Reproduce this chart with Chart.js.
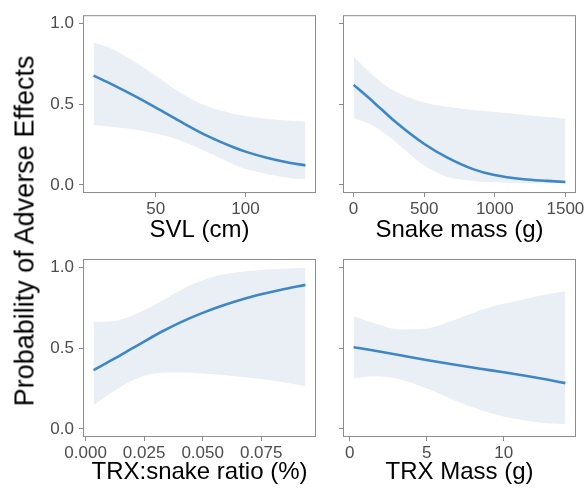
<!DOCTYPE html>
<html><head><meta charset="utf-8">
<script src="https://cdn.jsdelivr.net/npm/chart.js@4.4.0/dist/chart.umd.min.js"></script>
<style>
html,body{margin:0;padding:0;background:#fff;overflow:hidden;}
#wrap{position:relative;width:587px;height:488px;overflow:hidden;background:#fff;}
#wrap canvas{position:absolute;left:0;top:0;}
#ytitle{position:absolute;left:25px;top:231px;transform:translate(-50%,-50%) rotate(-90deg);font-family:'Liberation Sans',Arial,sans-serif;font-size:27px;color:#000;white-space:nowrap;line-height:1;}
</style></head><body>
<div id="wrap">
<canvas id="c1" width="640" height="520"></canvas>
<canvas id="c2" width="640" height="520"></canvas>
<canvas id="c3" width="640" height="520"></canvas>
<canvas id="c4" width="640" height="520"></canvas>
<div id="ytitle">Probability of Adverse Effects</div>
</div>
<script>
// ---- data ----
const yTicks = [0, 0.5, 1];
const yTickLabels = ['0.0', '0.5', '1.0'];

// SVL (cm)
const svlX     = [15.3, 26.1, 37.3, 50, 63.4, 78.4, 93.3, 100, 111.9, 123.1, 133.4];
const svlFit   = [0.676, 0.619, 0.555, 0.478, 0.394, 0.305, 0.233, 0.206, 0.168, 0.140, 0.121];
const svlUpper = [0.881, 0.840, 0.768, 0.676, 0.574, 0.488, 0.441, 0.426, 0.410, 0.398, 0.391];
const svlLower = [0.369, 0.359, 0.344, 0.318, 0.277, 0.205, 0.127, 0.098, 0.068, 0.045, 0.035];
const svlTicks = [50, 100];
const svlTickLabels = ['50', '100'];

// Snake mass (g)
const massX     = [0, 142, 283, 496, 661, 850, 997, 1205, 1370, 1500];
const massFit   = [0.619, 0.512, 0.400, 0.256, 0.170, 0.096, 0.061, 0.035, 0.025, 0.018];
const massUpper = [0.795, 0.676, 0.584, 0.512, 0.484, 0.463, 0.451, 0.434, 0.420, 0.410];
const massLower = [0.414, 0.365, 0.277, 0.123, 0.051, 0.025, 0.016, 0.012, 0.010, 0.010];
const massTicks = [0, 500, 1000, 1500];
const massTickLabels = ['0', '500', '1000', '1500'];

// TRX:snake ratio (%)
const ratioX     = [0.0034, 0.0117, 0.0203, 0.025, 0.0331, 0.0403, 0.05, 0.0589, 0.0689, 0.075, 0.0831, 0.0939];
const ratioFit   = [0.363, 0.429, 0.501, 0.540, 0.605, 0.657, 0.717, 0.764, 0.809, 0.832, 0.859, 0.890];
const ratioUpper = [0.661, 0.665, 0.702, 0.733, 0.795, 0.856, 0.918, 0.955, 0.975, 0.984, 0.990, 0.994];
const ratioLower = [0.148, 0.230, 0.302, 0.329, 0.347, 0.349, 0.343, 0.333, 0.318, 0.308, 0.292, 0.265];
const ratioTicks = [0, 0.025, 0.05, 0.075];
const ratioTickLabels = ['0.000', '0.025', '0.050', '0.075'];

// TRX Mass (g)
const trxX     = [0.26, 1.56, 3.29, 4.98, 6.75, 8.48, 10, 11.5, 12.8, 14.0];
const trxFit   = [0.505, 0.484, 0.455, 0.426, 0.398, 0.372, 0.350, 0.327, 0.305, 0.283];
const trxUpper = [0.696, 0.655, 0.614, 0.620, 0.671, 0.733, 0.774, 0.805, 0.832, 0.850];
const trxLower = [0.312, 0.326, 0.306, 0.251, 0.179, 0.117, 0.076, 0.051, 0.035, 0.029];
const trxTicks = [0, 5, 10];
const trxTickLabels = ['0', '5', '10'];

// ---- drawing ----
const FONT = "'Liberation Sans', Arial, sans-serif";
const LINE = '#3d87c8';
const RIBBON = 'rgb(234,239,246)';
const FRAME = '#8c8c8c';
const CW = 640, CH = 520, Y_AXIS_W = 40;

const borderPlugin = {
  id: 'panelBorder',
  afterDraw(chart) {
    const {ctx, chartArea: a} = chart;
    ctx.save();
    ctx.strokeStyle = FRAME;
    ctx.lineWidth = 1;
    ctx.strokeRect(a.left + 0.5, a.top + 0.5, a.right - a.left - 1, a.bottom - a.top - 1);
    ctx.restore();
  }
};

function panel(id, area, xs, fit, lo, hi, xMin, xMax, xTicks, xLabels, xTitle, yLabels, axisH) {
  const pts = ys => xs.map((x, i) => ({x: x, y: ys[i]}));
  new Chart(document.getElementById(id), {
    type: 'line',
    data: {datasets: [
      {data: pts(hi), borderColor: 'rgba(0,0,0,0)', borderWidth: 0, pointRadius: 0, fill: '+1', backgroundColor: RIBBON, cubicInterpolationMode: 'monotone', order: 2},
      {data: pts(lo), borderColor: 'rgba(0,0,0,0)', borderWidth: 0, pointRadius: 0, fill: false, cubicInterpolationMode: 'monotone', order: 2},
      {data: pts(fit), borderColor: LINE, borderWidth: 2.6, pointRadius: 0, fill: false, cubicInterpolationMode: 'monotone', order: 1}
    ]},
    options: {
      responsive: false, animation: false, devicePixelRatio: 1, events: [],
      layout: {padding: {left: area.l - Y_AXIS_W, right: CW - area.r, top: area.t, bottom: CH - area.b - axisH}},
      plugins: {legend: {display: false}, tooltip: {enabled: false}},
      scales: {
        x: {
          type: 'linear', min: xMin, max: xMax,
          afterFit: s => { s.height = axisH; },
          afterBuildTicks: s => { s.ticks = xTicks.map(v => ({value: v})); },
          grid: {drawOnChartArea: false, drawTicks: true, tickLength: 4, color: FRAME, tickColor: FRAME},
          border: {display: false},
          ticks: {padding: 2, color: '#4d4d4d', font: {size: 17, family: FONT}, maxRotation: 0, autoSkip: false,
                  callback: (v, i) => xLabels[i]},
          title: {display: true, text: xTitle, color: '#000', font: {size: 24, family: FONT}, padding: 0}
        },
        y: {
          type: 'linear', min: -0.05, max: 1.05,
          afterFit: s => { s.width = Y_AXIS_W; },
          afterBuildTicks: s => { s.ticks = yTicks.map(v => ({value: v})); },
          grid: {drawOnChartArea: false, drawTicks: true, tickLength: 4, color: FRAME, tickColor: FRAME},
          border: {display: false},
          ticks: {padding: 5, color: '#4d4d4d', font: {size: 17, family: FONT}, autoSkip: false,
                  callback: (v, i) => (yLabels ? yLabels[i] : '')}
        }
      }
    },
    plugins: [borderPlugin]
  });
}

panel('c1', {l: 83, r: 316, t: 15, b: 193}, svlX, svlFit, svlLower, svlUpper, 9.4, 139.3, svlTicks, svlTickLabels, 'SVL (cm)', yTickLabels, 52);
panel('c2', {l: 343, r: 576, t: 15, b: 193}, massX, massFit, massLower, massUpper, -75, 1575, massTicks, massTickLabels, 'Snake mass (g)', null, 52);
panel('c3', {l: 83, r: 316, t: 259, b: 437}, ratioX, ratioFit, ratioLower, ratioUpper, -0.0011, 0.0984, ratioTicks, ratioTickLabels, 'TRX:snake ratio (%)', yTickLabels, 50);
panel('c4', {l: 343, r: 576, t: 259, b: 437}, trxX, trxFit, trxLower, trxUpper, -0.43, 14.69, trxTicks, trxTickLabels, 'TRX Mass (g)', null, 50);
</script>
</body></html>
